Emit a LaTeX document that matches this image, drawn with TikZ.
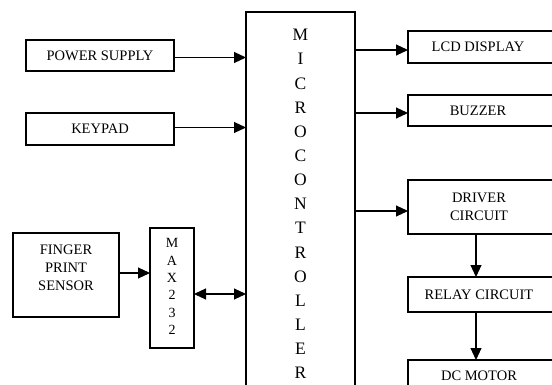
\documentclass[tikz,border=0pt]{standalone}
\usepackage{fontspec}
\setmainfont{Liberation Serif}
\usetikzlibrary{arrows.meta}
\begin{document}
\begin{tikzpicture}[x=1pt,y=-1pt,
  line width=1.1pt,
  box/.style={draw, line width=1.1pt, anchor=north west, inner sep=0pt, outer sep=0pt},
  boxtext/.style={font=\fontsize{14.5}{18}\selectfont, inner sep=0pt, align=center},
  bigletter/.style={font=\fontsize{17.5}{17.5}\selectfont, inner sep=0pt},
  smallletter/.style={font=\fontsize{14}{14}\selectfont, inner sep=0pt},
  arr/.style={-{Triangle[length=12pt,width=11pt]}},
  darr/.style={{Triangle[length=12pt,width=11pt]}-{Triangle[length=12pt,width=11pt]}}]
  \useasboundingbox (0,0) rectangle (552,385);
  \clip (0,0) rectangle (552,385);

  % input blocks on the left
  \node[box, minimum width=148pt, minimum height=31pt] (ps) at (26,40) {};
  \node[boxtext] (pst) at (ps.center) {POWER SUPPLY};
  \node[box, minimum width=148pt, minimum height=32pt] (kp) at (26,113) {};
  \node[boxtext] (kpt) at (kp.center) {KEYPAD};
  \node[box, minimum width=106pt, minimum height=84pt] (fp) at (13,233) {};
  \node[boxtext] (fpt) at ([yshift=7pt]fp.center) {FINGER\\PRINT\\SENSOR};

  % level converter
  \node[box, minimum width=44pt, minimum height=120pt] (max) at (150,228) {};
  \foreach \ch [count=\i from 0] in {M,A,X,2,3,2}
    \node[smallletter] (maxl\i) at (172,{243+17.4*\i}) {\ch};

  % microcontroller (runs past the lower edge)
  \node[box, minimum width=109pt, minimum height=400pt] (mc) at (246,12) {};
  \foreach \ch [count=\i from 0] in {M,I,C,R,O,C,O,N,T,R,O,L,L,E,R}
    \node[bigletter] (mcl\i) at (300.5,{35+24.15*\i}) {\ch};

  % output blocks on the right (run past the right edge)
  \node[box, minimum width=150pt, minimum height=32pt] (lcd) at (408,31) {};
  \node[boxtext] (lcdt) at ([xshift=-5pt]lcd.center) {LCD DISPLAY};
  \node[box, minimum width=150pt, minimum height=31pt] (bz) at (408,95) {};
  \node[boxtext] (bzt) at ([xshift=-5pt]bz.center) {BUZZER};
  \node[box, minimum width=150pt, minimum height=54pt] (drv) at (408,180) {};
  \node[boxtext] (drvt) at ([xshift=-4pt]drv.center) {DRIVER\\CIRCUIT};
  \node[box, minimum width=150pt, minimum height=35pt] (rly) at (408,277) {};
  \node[boxtext] (rlyt) at ([xshift=-4pt]rly.center) {RELAY CIRCUIT};
  \node[box, minimum width=150pt, minimum height=40pt] (dc) at (408,360) {};
  \node[boxtext] (dct) at ([xshift=-4pt,yshift=4.5pt]dc.center) {DC MOTOR};

  % connections
  \draw[arr] ([yshift=-2pt]ps.east) -- ([yshift=-2pt]ps.east -| mc.west);
  \draw[arr] ([yshift=1.5pt]kp.east) -- ([yshift=1.5pt]kp.east -| mc.west);
  \draw[arr] ([yshift=2pt]fp.east) -- ([yshift=2pt]fp.east -| max.west);
  \draw[darr] ([yshift=-6pt]max.east) -- ([yshift=-6pt]max.east -| mc.west);
  \draw[arr] ([yshift=-3pt]lcd.west -| mc.east) -- ([yshift=-3pt]lcd.west);
  \draw[arr] ([yshift=-2.5pt]bz.west -| mc.east) -- ([yshift=-2.5pt]bz.west);
  \draw[arr] ([yshift=-4pt]drv.west -| mc.east) -- ([yshift=-4pt]drv.west);
  \draw[arr] ([xshift=-7pt]drv.south) -- ([xshift=-7pt]drv.south |- rly.north);
  \draw[arr] ([xshift=-7pt]rly.south) -- ([xshift=-7pt]rly.south |- dc.north);
\end{tikzpicture}
\end{document}
